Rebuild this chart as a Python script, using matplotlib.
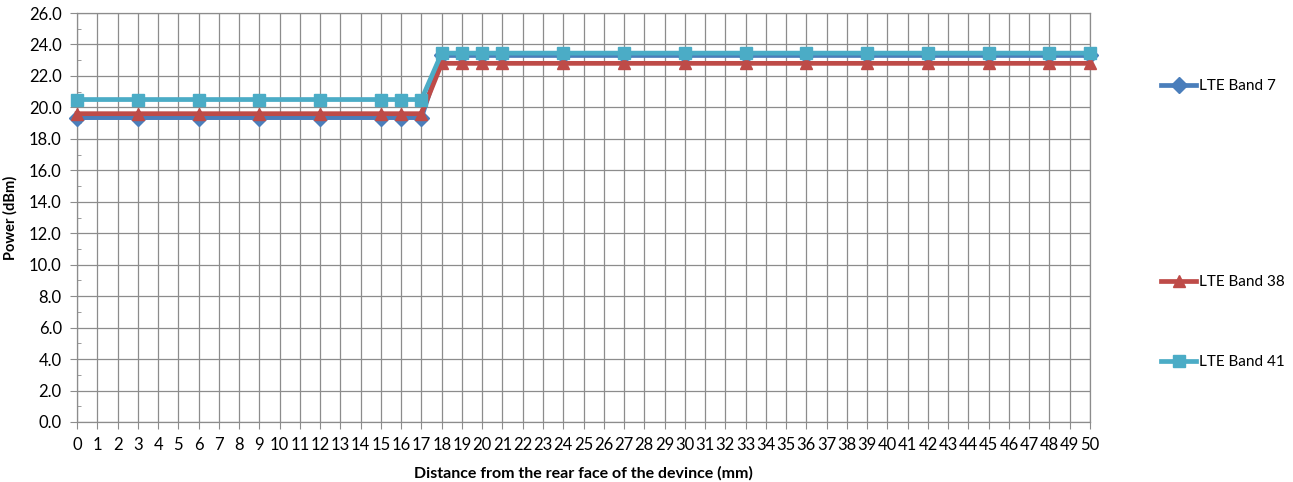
import matplotlib.pyplot as plt
from matplotlib.lines import Line2D
from matplotlib.ticker import MultipleLocator

# Distances (mm) where power was measured
distance = [0, 3, 6, 9, 12, 15, 16, 17, 18, 19, 20, 21, 24, 27, 30, 33, 36, 39, 42, 45, 48, 50]

band7 = [19.35] * 8 + [23.3] * 14
band38 = [19.6] * 8 + [22.8] * 14
band41 = [20.5] * 8 + [23.45] * 14

SERIES = [
    ("LTE Band 7", band7, "#4A7EBB", "D"),
    ("LTE Band 38", band38, "#BE4B48", "^"),
    ("LTE Band 41", band41, "#4BACC6", "s"),
]

plt.rcParams['font.family'] = ['Lato', 'DejaVu Sans']

fig = plt.figure(figsize=(12.93, 4.82), dpi=100)
ax = fig.add_axes([0.0596, 0.1245, 0.843 - 0.0596, 0.973 - 0.1245])

for label, values, color, marker in SERIES:
    ax.plot(distance, values, color=color, lw=3.4, marker=marker, markersize=8,
            markeredgecolor=color, label=label, zorder=3, clip_on=False)

ax.set_xlim(0, 50)
ax.set_ylim(0, 26)
ax.xaxis.set_major_locator(MultipleLocator(1))
ax.yaxis.set_major_locator(MultipleLocator(2))
ax.yaxis.set_minor_locator(MultipleLocator(1))
ax.yaxis.set_major_formatter(plt.FuncFormatter(lambda v, p: f"{v:.1f}"))

ax.grid(True, which='major', color='#8c8c8c', lw=0.9)
ax.set_axisbelow(True)
for side in ax.spines.values():
    side.set_color('#8c8c8c')
    side.set_linewidth(0.9)

ax.tick_params(axis='x', which='major', length=5, color='#8c8c8c', labelsize=12, pad=6)
ax.tick_params(axis='y', which='major', length=5, color='#8c8c8c', labelsize=12, pad=6)
ax.tick_params(axis='y', which='minor', length=3, direction='in', color='#8c8c8c')

ax.set_xlabel("Distance from the rear face of the devince (mm)", fontsize=11.5,
              fontweight='bold', labelpad=9)
ax.set_ylabel("Power (dBm)", fontsize=10.5, fontweight='bold', labelpad=8)

# legend entries placed separately down the right side
legend_y = [1 - 86 / 482, 1 - 282 / 482, 1 - 362 / 482]
for (label, values, color, marker), ly in zip(SERIES, legend_y):
    handle = Line2D([], [], color=color, lw=3.4, marker=marker, markersize=8,
                    markeredgecolor=color)
    fig.legend([handle], [label], loc='center left', bbox_to_anchor=(0.892, ly),
               frameon=False, fontsize=11, handlelength=2.3, handletextpad=0.2,
               borderpad=0)

fig.savefig("out.png", dpi=100)
